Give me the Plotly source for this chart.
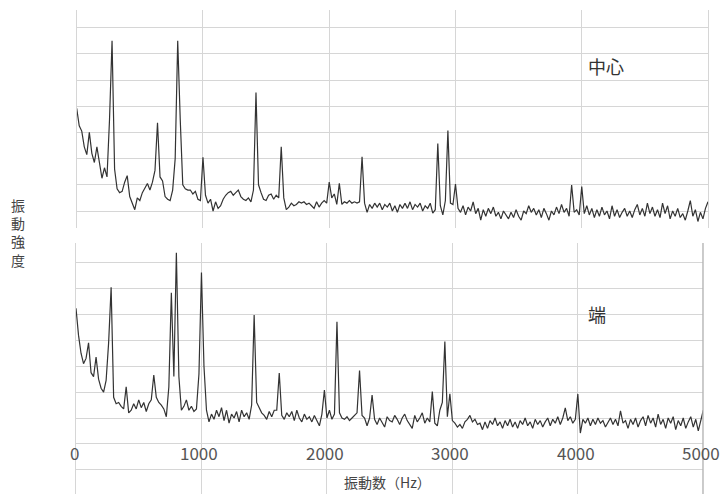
import plotly.graph_objects as go

# Frequency axis (Hz), 20 Hz steps from 0 to 5000
freq_hz = list(range(0, 5001, 20))

# Vibration intensity measured at the centre (中心)
center_amp = [
    4.92, 4.25, 4.05, 3.45, 3.15, 4.0, 3.2, 2.85, 3.45, 2.75,     # 0-180
    2.25, 2.65, 2.3, 4.5, 7.5, 2.6, 1.85, 1.7, 1.75, 2.1,         # 200-380
    2.35, 1.55, 1.3, 1.05, 1.5, 1.4, 1.7, 1.85, 2.05, 1.8,        # 400-580
    2.1, 2.55, 4.37, 2.3, 2.15, 1.55, 1.45, 1.4, 1.8, 3.0,        # 600-780
    7.5, 4.5, 2.0, 1.85, 1.8, 1.8, 1.65, 1.75, 1.45, 1.4,         # 800-980
    3.05, 1.6, 1.3, 1.45, 1.0, 1.35, 1.1, 1.2, 1.45, 1.6,         # 1000-1180
    1.7, 1.75, 1.6, 1.7, 1.8, 1.55, 1.45, 1.4, 1.5, 1.35,         # 1200-1380
    1.8, 5.52, 2.0, 1.7, 1.45, 1.4, 1.6, 1.65, 1.45, 1.6,         # 1400-1580
    1.5, 3.45, 1.5, 1.05, 1.15, 1.3, 1.2, 1.25, 1.35, 1.3,        # 1600-1780
    1.35, 1.25, 1.3, 1.2, 1.1, 1.35, 1.15, 1.3, 1.4, 1.3,         # 1800-1980
    2.1, 1.5, 1.65, 1.25, 2.06, 1.25, 1.35, 1.3, 1.4, 1.3,        # 2000-2180
    1.35, 1.3, 1.35, 3.07, 1.3, 0.95, 1.25, 1.1, 1.3, 1.15,       # 2200-2380
    1.3, 1.05, 1.25, 1.15, 1.3, 1.0, 1.2, 0.95, 1.25, 1.1,        # 2400-2580
    1.3, 1.1, 1.35, 1.05, 1.25, 1.15, 1.3, 1.0, 1.2, 1.1,         # 2600-2780
    1.3, 0.92, 1.05, 3.58, 1.2, 0.85, 1.4, 4.07, 1.3, 1.25,       # 2800-2980
    2.03, 1.1, 0.95, 1.2, 0.85, 1.15, 1.0, 1.35, 0.9, 1.1,        # 3000-3180
    0.65, 1.05, 0.8, 1.1, 0.9, 1.15, 0.8, 0.95, 0.7, 1.0,         # 3200-3380
    0.85, 0.7, 0.95, 0.75, 1.05, 0.8, 0.65, 1.0, 0.9, 1.2,        # 3400-3580
    0.95, 1.1, 0.85, 1.05, 0.75, 1.1, 0.9, 0.65, 1.0, 0.85,       # 3600-3780
    1.15, 0.9, 1.25, 0.95, 1.1, 0.8, 1.99, 0.95, 1.05, 0.85,      # 3800-3980
    1.93, 0.9, 1.2, 0.85, 1.1, 0.75, 1.05, 0.8, 1.15, 0.85,       # 4000-4180
    1.0, 0.7, 1.2, 0.8, 1.05, 0.75, 0.95, 1.1, 0.8, 1.0,          # 4200-4380
    0.75, 1.05, 1.25, 0.85, 1.1, 0.8, 1.3, 0.9, 1.15, 0.8,        # 4400-4580
    1.05, 0.75, 1.3, 0.9, 1.2, 0.7, 1.0, 0.8, 1.1, 0.75,          # 4600-4780
    0.9, 0.65, 1.0, 1.4, 0.8, 1.05, 0.6, 0.95, 0.7, 1.1,          # 4800-4980
    1.35,                                                         # 5000
]

# Vibration intensity measured at the edge (端)
edge_amp = [
    5.24, 4.2, 3.5, 3.1, 3.3, 3.9, 2.75, 2.6, 3.35, 2.5,          # 0-180
    2.15, 2.0, 2.45, 3.9, 6.05, 1.8, 1.55, 1.6, 1.45, 1.35,       # 200-380
    2.2, 1.2, 1.3, 1.55, 1.35, 1.7, 1.4, 1.6, 1.25, 1.55,         # 400-580
    1.7, 2.66, 1.8, 1.6, 1.5, 1.35, 1.05, 2.2, 5.84, 2.6,         # 600-780
    7.38, 2.6, 1.3, 1.45, 1.7, 1.3, 1.45, 1.25, 1.35, 2.7,        # 800-980
    6.62, 3.0, 1.3, 0.85, 1.15, 0.95, 1.3, 1.05, 1.4, 0.9,        # 1000-1180
    1.3, 0.8, 1.15, 1.0, 1.25, 0.85, 1.3, 1.05, 1.2, 0.95,        # 1200-1380
    1.5, 4.98, 1.6, 1.4, 1.2, 1.1, 0.95, 1.25, 1.05, 1.3,         # 1400-1580
    1.3, 2.74, 1.1, 0.95, 1.2, 1.05, 1.25, 0.9, 1.3, 1.0,         # 1600-1780
    0.85, 1.15, 0.95, 1.05, 0.85, 1.1, 0.9, 0.7, 1.15, 2.08,      # 1800-1980
    1.0, 1.3, 0.95, 1.15, 4.72, 1.2, 1.0, 0.95, 1.05, 0.9,        # 2000-2180
    1.0, 1.1, 1.2, 2.83, 1.1, 1.0, 0.7, 1.0, 1.89, 0.95,          # 2200-2380
    0.75, 1.0, 0.8, 0.65, 1.05, 0.9, 0.85, 1.1, 0.95, 0.75,       # 2400-2580
    1.0, 1.15, 0.9, 0.75, 0.6, 1.1, 0.85, 1.0, 1.2, 0.8,          # 2600-2780
    1.0, 0.85, 2.02, 0.8, 0.7, 1.3, 1.6, 3.95, 1.05, 1.93,        # 2800-2980
    0.9, 0.8, 0.65, 0.75, 0.6, 0.85, 0.95, 1.1, 0.85, 0.95,       # 3000-3180
    0.75, 0.8, 0.55, 0.85, 0.6, 0.9, 0.75, 1.0, 0.7, 0.85,        # 3200-3380
    0.6, 0.9, 0.7, 0.95, 0.65, 0.85, 0.6, 0.9, 0.75, 1.0,         # 3400-3580
    0.7, 0.85, 0.6, 0.95, 0.75, 0.9, 0.65, 0.85, 1.0, 0.7,        # 3600-3780
    0.95, 0.8, 1.05, 0.75, 1.0, 1.39, 0.9, 1.05, 0.8, 0.95,       # 3800-3980
    1.93, 0.42, 0.95, 0.8, 1.0, 0.7, 0.95, 0.75, 1.0, 0.8,        # 4000-4180
    0.9, 0.65, 0.85, 1.0, 0.75, 0.95, 0.7, 1.28, 0.8, 0.9,        # 4200-4380
    0.6, 0.95, 0.75, 1.0, 0.65, 0.9, 1.05, 0.7, 1.1, 0.8,         # 4400-4580
    1.0, 0.65, 1.15, 0.75, 0.95, 0.6, 1.0, 0.8, 1.05, 0.55,       # 4600-4780
    0.9, 0.7, 1.0, 0.6, 0.85, 1.05, 0.65, 0.95, 0.5, 0.85,        # 4800-4980
    1.3,                                                          # 5000
]

tick_values = [0, 1000, 2000, 3000, 4000, 5000]
tick_labels = ["0", "1000", "2000", "3000", "4000", "5000"]

panel_labels = ["中心", "端"]
x_title = "振動数（Hz）"
y_title = "振動強度"

W, H = 722, 494
FONT = "Noto Sans CJK JP"
GRID = "#d6d6d6"
LINE = "#333333"


def px_x(p):
    return p / W


def px_y(p):
    return (H - p) / H


fig = go.Figure()
fig.add_trace(go.Scatter(x=freq_hz, y=center_amp, mode="lines",
                         line=dict(color=LINE, width=1.2),
                         xaxis="x", yaxis="y", showlegend=False))
fig.add_trace(go.Scatter(x=freq_hz, y=edge_amp, mode="lines",
                         line=dict(color=LINE, width=1.2),
                         xaxis="x2", yaxis="y2", showlegend=False))

common_x = dict(range=[0, 5000], tickvals=tick_values, showticklabels=False,
                showgrid=True, gridcolor=GRID, gridwidth=1, zeroline=False,
                ticks="", showline=False)
common_y = dict(dtick=1, tick0=0, showticklabels=False, showgrid=True,
                gridcolor=GRID, gridwidth=1, zeroline=False, ticks="",
                showline=True, linecolor=GRID, linewidth=1, mirror=True)

fig.update_layout(
    width=W, height=H,
    margin=dict(l=0, r=0, t=0, b=0),
    paper_bgcolor="white", plot_bgcolor="white",
    xaxis=dict(domain=[px_x(76.7), px_x(708)], anchor="y", **common_x),
    yaxis=dict(domain=[px_y(228), px_y(10)], anchor="x",
               range=[0.351, 8.672], **common_y),
    xaxis2=dict(domain=[px_x(76), px_x(703.3)], anchor="y2", **common_x),
    yaxis2=dict(domain=[0, px_y(243)], anchor="x2",
                range=[-1.934, 7.757], **common_y),
)

# Darker frame line on the right edge of the lower panel
fig.add_shape(type="line", xref="x2", yref="paper", x0=5000, x1=5000,
              y0=0, y1=px_y(243), line=dict(color="#b4b4b4", width=2))

annotations = []
# Frequency tick labels drawn inside the lower panel
for v, t in zip(tick_values, tick_labels):
    annotations.append(dict(x=v, y=-0.35, xref="x2", yref="y2", text=t,
                            showarrow=False, xshift=-2,
                            font=dict(family=FONT, size=17, color="#555555"),
                            xanchor="center", yanchor="middle"))
# x-axis title
annotations.append(dict(x=2480, y=-1.48, xref="x2", yref="y2", text=x_title,
                        showarrow=False, bgcolor="white",
                        font=dict(family=FONT, size=14, color="#444444"),
                        xanchor="center", yanchor="middle"))
# Vertical y-axis title, one character per line
annotations.append(dict(x=px_x(17.5), y=px_y(232), xref="paper", yref="paper",
                        text="<br>".join(y_title), showarrow=False,
                        font=dict(family=FONT, size=14, color="#444444"),
                        xanchor="center", yanchor="middle", align="center"))
# Panel labels
for lab, yc in zip(panel_labels, [66, 314]):
    annotations.append(dict(x=px_x(586), y=px_y(yc), xref="paper", yref="paper",
                            text=lab, showarrow=False,
                            font=dict(family=FONT, size=18, color="#333333"),
                            xanchor="left", yanchor="middle"))
fig.update_layout(annotations=annotations)

fig.write_html("out.html")
